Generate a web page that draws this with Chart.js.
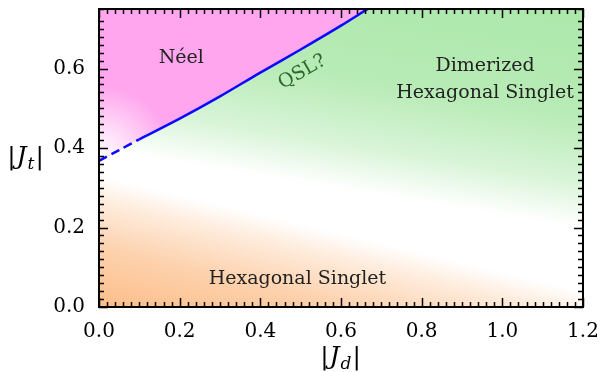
<!DOCTYPE html>
<html>
<head>
<meta charset="utf-8">
<script src="https://cdn.jsdelivr.net/npm/chart.js@4.4.1/dist/chart.umd.min.js"></script>
<style>
  html, body { margin: 0; background: #fff; }
  #wrap { width: 603px; height: 372px; }
</style>
</head>
<body>
<div id="wrap"><canvas id="chart"></canvas></div>
<script>
// phase boundary Neel / dimerized
const dashedJd = [0.0, 0.05, 0.1]
const dashedJt = [0.368, 0.395, 0.422]
const solidJd = [0.1, 0.2, 0.3, 0.4, 0.5, 0.6, 0.666]
const solidJt = [0.422, 0.474, 0.530, 0.590, 0.648, 0.708, 0.75]

// axis ranges and ticks
const xRange = [0, 1.2]
const yRange = [0, 0.75]
const majorStep = 0.2
const minorStep = 0.02

// region names
const phaseNames = ['Néel', 'Dimerized', 'Hexagonal Singlet', 'Hexagonal Singlet', 'QSL?']

const serif = '"DejaVu Serif", serif'
const pink = [255, 166, 238]
const green = [172, 232, 170]
const orange = [252, 190, 138]
const rgba = (c, a) => `rgba(${c[0]},${c[1]},${c[2]},${a})`

const toPts = (xs, ys) => xs.map((x, i) => ({ x, y: ys[i] }))

function isMajor(v) {
  const k = Math.round(v / majorStep)
  return Math.abs(v - k * majorStep) < 1e-6
}

function bandGradient(ctx, p1, p2, corner, stops) {
  const dx = p2.x - p1.x, dy = p2.y - p1.y, L = Math.hypot(dx, dy)
  const nx = -dy / L, ny = dx / L
  const d = (corner.x - p1.x) * nx + (corner.y - p1.y) * ny
  const g = ctx.createLinearGradient(corner.x - d * nx, corner.y - d * ny, corner.x, corner.y)
  stops.forEach(([o, c]) => g.addColorStop(o, c))
  return g
}

const phasePlugin = {
  id: 'phases',
  beforeDatasetsDraw(chart) {
    const { ctx, chartArea: a, scales: { x, y } } = chart
    const P = (jd, jt) => ({ x: x.getPixelForValue(jd), y: y.getPixelForValue(jt) })
    const line = toPts(dashedJd, dashedJt).concat(toPts(solidJd, solidJt).slice(1)).map(p => P(p.x, p.y))

    ctx.save()
    ctx.fillStyle = '#fff'
    ctx.fillRect(a.left, a.top, a.width, a.height)

    // orange, fading away from the lower left
    ctx.fillStyle = bandGradient(ctx, P(0, 0.33), P(1.2, 0.04), P(0, 0), [
      [0, rgba(orange, 0)], [0.2, rgba(orange, 0.3)], [0.55, rgba(orange, 0.7)], [1, rgba(orange, 1)]
    ])
    ctx.fillRect(a.left, a.top, a.width, a.height)

    // green below the boundary
    ctx.save()
    ctx.beginPath()
    ctx.moveTo(a.left, a.bottom)
    line.forEach(p => ctx.lineTo(p.x, p.y))
    ctx.lineTo(a.right, a.top)
    ctx.lineTo(a.right, a.bottom)
    ctx.closePath()
    ctx.clip()
    ctx.fillStyle = bandGradient(ctx, P(0.1, 0.38), P(1.2, 0.2), P(1.2, 0.75), [
      [0, rgba(green, 0)], [0.2, rgba(green, 0.45)], [0.5, rgba(green, 0.85)], [1, rgba(green, 1)]
    ])
    ctx.fillRect(a.left, a.top, a.width, a.height)
    ctx.restore()

    // pink above the boundary
    ctx.save()
    ctx.beginPath()
    ctx.moveTo(a.left, a.top)
    line.forEach(p => ctx.lineTo(p.x, p.y))
    ctx.closePath()
    ctx.clip()
    ctx.fillStyle = rgba(pink, 1)
    ctx.fillRect(a.left, a.top, a.width, a.height)
    const c = line[0]
    const rg = ctx.createRadialGradient(c.x, c.y, 0, c.x, c.y, 75)
    rg.addColorStop(0, 'rgba(255,255,255,1)')
    rg.addColorStop(0.3, 'rgba(255,255,255,0.75)')
    rg.addColorStop(1, 'rgba(255,255,255,0)')
    ctx.fillStyle = rg
    ctx.fillRect(a.left, a.top, a.width, a.height)
    ctx.restore()

    ctx.restore()
  },
  afterDatasetsDraw(chart) {
    const { ctx, chartArea: a, scales: { x, y } } = chart
    const P = (jd, jt) => ({ x: x.getPixelForValue(jd), y: y.getPixelForValue(jt) })
    ctx.save()
    ctx.fillStyle = '#222'
    ctx.textAlign = 'center'
    ctx.textBaseline = 'middle'
    ctx.font = '19px ' + serif
    let p = P(0.204, 0.627); ctx.fillText(phaseNames[0], p.x, p.y)
    p = P(0.957, 0.607); ctx.fillText(phaseNames[1], p.x, p.y)
    p = P(0.957, 0.539); ctx.fillText(phaseNames[2], p.x, p.y)
    p = P(0.492, 0.07); ctx.fillText(phaseNames[3], p.x, p.y)
    p = P(0.504, 0.591)
    ctx.translate(p.x, p.y)
    ctx.rotate(-30 * Math.PI / 180)
    ctx.fillStyle = '#2b6a2b'
    ctx.fillText(phaseNames[4], 0, 0)
    ctx.restore()

    // inward ticks on all four sides
    ctx.save()
    ctx.strokeStyle = '#000'
    ctx.lineWidth = 1.5
    ctx.beginPath()
    x.ticks.forEach(t => {
      const px = Math.round(x.getPixelForValue(t.value)) + 0.5
      const len = isMajor(t.value) ? 9 : 5
      ctx.moveTo(px, a.bottom); ctx.lineTo(px, a.bottom - len)
      ctx.moveTo(px, a.top); ctx.lineTo(px, a.top + len)
    })
    y.ticks.forEach(t => {
      const py = Math.round(y.getPixelForValue(t.value)) + 0.5
      const len = isMajor(t.value) ? 9 : 5
      ctx.moveTo(a.left, py); ctx.lineTo(a.left + len, py)
      ctx.moveTo(a.right, py); ctx.lineTo(a.right - len, py)
    })
    ctx.stroke()
    ctx.lineWidth = 2
    ctx.strokeRect(a.left, a.top, a.width, a.height)
    ctx.restore()
  },
  afterDraw(chart) {
    const { ctx, chartArea: a } = chart
    function absTitle(cx, cy, sub) {
      ctx.save()
      ctx.fillStyle = '#000'
      ctx.textBaseline = 'alphabetic'
      const big = '25px ' + serif, it = 'italic 25px ' + serif, subf = 'italic 17px ' + serif
      const parts = [['|', big, 0], ['J', it, 0], [sub, subf, 5], ['|', big, 0]]
      let w = 0
      parts.forEach(([s, f]) => { ctx.font = f; w += ctx.measureText(s).width + 1 })
      let px = cx - w / 2
      parts.forEach(([s, f, dy]) => {
        ctx.font = f
        ctx.fillText(s, px, cy + dy)
        px += ctx.measureText(s).width + 1
      })
      ctx.restore()
    }
    absTitle((a.left + a.right) / 2, 364, 'd')
    absTitle(26, 164, 't')
  }
}

new Chart(document.getElementById('chart'), {
  type: 'line',
  data: {
    datasets: [
      { data: toPts(dashedJd, dashedJt), borderColor: '#0a0aff', borderWidth: 2.5, borderDash: [9, 5], pointRadius: 0, tension: 0.3, fill: false },
      { data: toPts(solidJd, solidJt), borderColor: '#0a0aff', borderWidth: 2.5, pointRadius: 0, tension: 0.3, fill: false }
    ]
  },
  options: {
    responsive: true,
    maintainAspectRatio: false,
    animation: false,
    layout: { padding: { top: 9, right: 20, left: 0, bottom: 0 } },
    plugins: { legend: { display: false }, tooltip: { enabled: false } },
    scales: {
      x: {
        type: 'linear', min: xRange[0], max: xRange[1],
        grid: { display: false }, border: { display: false },
        afterFit: s => { s.height = 65; s.paddingLeft = 0; s.paddingRight = 0 },
        ticks: {
          stepSize: minorStep, autoSkip: false, maxRotation: 0, padding: 5,
          color: '#000', font: { family: serif, size: 20 },
          callback: v => isMajor(v) ? v.toFixed(1) : ''
        }
      },
      y: {
        type: 'linear', min: yRange[0], max: yRange[1],
        grid: { display: false }, border: { display: false },
        afterFit: s => { s.width = 99; s.paddingTop = 0; s.paddingBottom = 0 },
        ticks: {
          stepSize: minorStep, autoSkip: false, padding: 6,
          color: '#000', font: { family: serif, size: 20 },
          callback: v => isMajor(v) ? v.toFixed(1) : ''
        }
      }
    }
  },
  plugins: [phasePlugin]
})
</script>
</body>
</html>
